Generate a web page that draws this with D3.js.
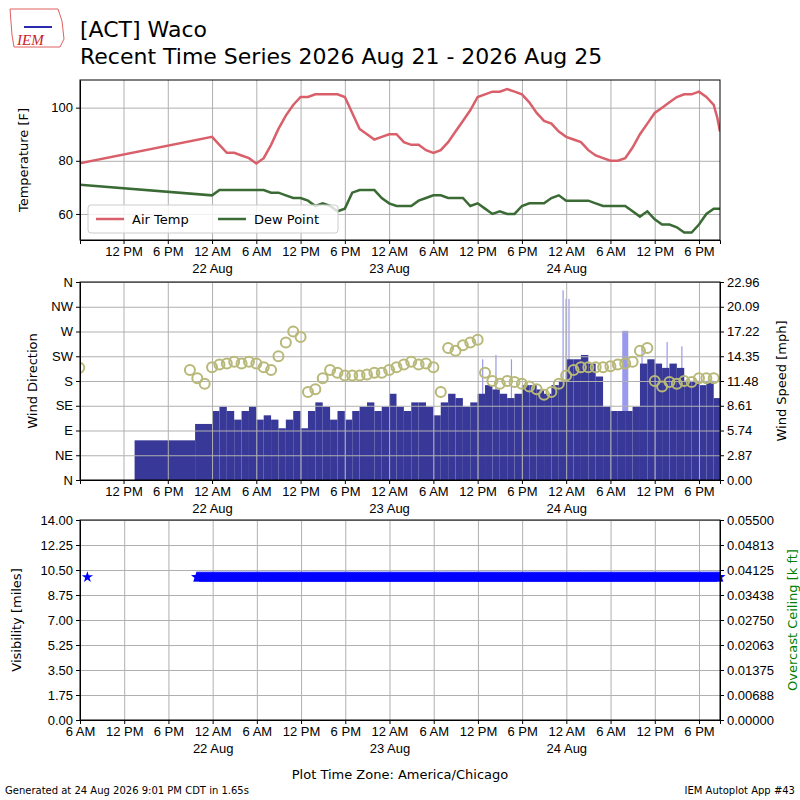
<!DOCTYPE html>
<html>
<head>
<meta charset="utf-8">
<script src="https://cdn.jsdelivr.net/npm/d3@7"></script>
<style>
body { margin: 0; background: #fff; }
svg { font-family: "DejaVu Sans", sans-serif; }
.tick text { font-size: 13px; fill: #000; }
.tick line { stroke: #000; }
.domain { stroke: #000; }
.grid line { stroke: #b0b0b0; stroke-width: 1; }
.grid .domain { display: none; }
</style>
</head>
<body>
<svg id="chart" width="800" height="800"></svg>
<script>
// times are hours relative to 2026 Aug 22 00:00 local
var TEMP_HOURS = [-18, 0,1,2,3,4,5,6,7,8,9,10,11,12,13,14,15,16,17,18,19,20,21,22,23,
    24,25,26,27,28,29,30,31,32,33,34,35,36,37,38,39,40,41,42,43,44,45,46,47,
    48,49,50,51,52,53,54,55,56,57,58,59,60,61,62,63,64,65,66,67,68,68.5,68.85];
var AIR_TEMP = [79, 89,86,83,83,82,81,79,81,86,92,97,101,104,104,105,105,105,105,104,98,92,90,88,89,
    90,90,87,86,86,84,83,84,87,91,95,99,104,105,106,106,107,106,105,102,98,95,94,91,
    89,88,87,84,82,81,80,80,81,85,90,94,98,100,102,104,105,105,106,104,101,96,91];
var DEW_POINT = [71, 67,69,69,69,69,69,69,69,68,68,67,66,66,65,63,64,63,61,62,68,69,69,69,66,
    64,63,63,63,65,66,67,67,66,66,66,63,64,62,60,61,60,60,63,64,64,64,66,67,
    65,65,65,65,64,63,63,63,63,61,59,61,58,56,56,55,53,53,56,60,62,62,62];

var WIND_HOURS = [-10.5, -2.3, 0,1,2,3,4,5,6,7,8,9,10,11,12,13,14,15,16,17,18,19,20,21,22,23,
    24,25,26,27,28,29,30,31,32,33,34,35,36,37,38,39,40,41,42,43,44,45,46,47,
    48,49,50,51,52,53,54,55,56,57,58,59,60,61,62,63,64,65,66,67,68];
var WIND_SPEED = [4.6, 6.5, 8,8.5,8,7,8,8.5,7,7.5,7,6,7,8,6,8,9,8.5,7,8,7,8,8.5,9,8,8.5,
    10,8.5,8,9,9,8.5,7.5,9,10,9.5,8.5,9,10,11,10.5,10,9.5,10,11,11,10.5,10,11,11.5,
    14,14,14.5,13.5,12,8.5,8,8,8,8.5,13.5,14,13.5,13,13.5,13,11.5,11.5,11,11.5,9.5];
var GUST_HOURS = [36.6, 38.4, 40.5, 47.5, 47.9, 48.3, 55.6, 58.2, 61.6, 63.6];
var GUST_SPEED = [14, 14.5, 14, 22, 21, 21, 17.3, 15.5, 16, 15.5];

var DIR_HOURS = [-18, -3, -2, -1, 0,1,2,3,4,5,6,7,8,9,10,11,12,13,14,15,16,17,18,19,20,21,22,23,
    24,25,26,27,28,29,30,31,32,33,34,35,36,37,38,39,40,41,42,43,44,45,46,47,
    48,49,50,51,52,53,54,55,56,57,58,59,60,61,62,63,64,65,66,67,68];
var WIND_DIR = [204, 200, 185, 175, 205,210,212,215,212,215,212,205,200,225,250,270,260,160,165,185,200,195,190,190,190,192,195,195,
    200,205,210,215,210,212,205,160,240,235,245,250,255,195,180,175,180,178,175,170,165,155,160,175,
    190,200,205,205,205,205,207,210,212,215,235,240,180,170,178,175,180,178,185,185,185];

var VIS_FIRST_HOURS = [-17];
var VIS_START_HOUR = -2.17;
var VIS_VALUE = 10;

var DIR_LABELS = ['N', 'NE', 'E', 'SE', 'S', 'SW', 'W', 'NW', 'N'];

var BASE = Date.UTC(2026, 7, 22, 0, 0);
function hourToDate(h) { return new Date(BASE + h * 3600000); }

var svg = d3.select('#chart');
var left = 80, right = 720;
var topDomain = [hourToDate(-17.9), hourToDate(68.85)];
var botDomain = [hourToDate(-18), hourToDate(68.85)];

function timeTick(d) {
    var h = d.getUTCHours();
    if (h === 0) return '12 AM';
    if (h === 12) return '12 PM';
    return h < 12 ? h + ' AM' : (h - 12) + ' PM';
}

function drawTimeAxis(x, yPos) {
    var g = svg.append('g').attr('transform', `translate(0,${yPos})`)
        .call(d3.axisBottom(x).ticks(d3.utcHour.every(6)).tickFormat(timeTick).tickSizeOuter(0).tickSize(4));
    g.selectAll('.tick').each(function(d) {
        if (d.getUTCHours() === 0) {
            d3.select(this).append('text').attr('y', 24).attr('dy', '0.71em')
                .attr('text-anchor', 'middle').text(d.getUTCDate() + ' Aug');
        }
    });
}

function drawXGrid(x, y0, y1) {
    svg.append('g').attr('class', 'grid').attr('transform', `translate(0,${y1})`)
        .call(d3.axisBottom(x).ticks(d3.utcHour.every(6)).tickSize(y0 - y1).tickFormat(''));
}

function drawYGrid(y, ticks) {
    svg.append('g').attr('class', 'grid').attr('transform', `translate(${left},0)`)
        .call(d3.axisRight(y).tickValues(ticks).tickSize(right - left).tickFormat(''));
}

function frame(y0, y1) {
    svg.append('rect').attr('x', left).attr('y', y0).attr('width', right - left).attr('height', y1 - y0)
        .attr('fill', 'none').attr('stroke', '#000');
}

function yLabel(text, xPos, yMid, color) {
    svg.append('text').attr('transform', `translate(${xPos},${yMid}) rotate(-90)`)
        .attr('text-anchor', 'middle').attr('font-size', 13).attr('fill', color || '#000').text(text);
}

// ---------- Panel 1: temperature ----------
var p1 = { top: 80, bottom: 240 };
var x1 = d3.scaleUtc().domain(topDomain).range([left, right]);
var y1 = d3.scaleLinear().domain([50.2, 110.4]).range([p1.bottom, p1.top]);
drawXGrid(x1, p1.bottom, p1.top);
drawYGrid(y1, [60, 80, 100]);

svg.append('clipPath').attr('id', 'clip1').append('rect')
    .attr('x', left).attr('y', p1.top).attr('width', right - left).attr('height', p1.bottom - p1.top);

var line1 = d3.line().x((d, i) => x1(hourToDate(TEMP_HOURS[i]))).y(d => y1(d));
svg.append('path').datum(AIR_TEMP).attr('d', line1).attr('fill', 'none')
    .attr('stroke', '#d9606a').attr('stroke-width', 2.5).attr('clip-path', 'url(#clip1)');
svg.append('path').datum(DEW_POINT).attr('d', line1).attr('fill', 'none')
    .attr('stroke', '#3a6b35').attr('stroke-width', 2.5).attr('clip-path', 'url(#clip1)');

svg.append('g').attr('transform', `translate(${left},0)`)
    .call(d3.axisLeft(y1).tickValues([60, 80, 100]).tickSize(4).tickSizeOuter(0));
drawTimeAxis(x1, p1.bottom);
frame(p1.top, p1.bottom);
yLabel('Temperature [F]', 28, 160);

var legend = svg.append('g').attr('transform', 'translate(88,205)');
legend.append('rect').attr('width', 250).attr('height', 28).attr('rx', 3)
    .attr('fill', 'rgba(255,255,255,0.8)').attr('stroke', '#ccc');
[['Air Temp', '#d9606a', 8], ['Dew Point', '#3a6b35', 130]].forEach(function(l) {
    legend.append('line').attr('x1', l[2]).attr('x2', l[2] + 28).attr('y1', 14).attr('y2', 14)
        .attr('stroke', l[1]).attr('stroke-width', 2.5);
    legend.append('text').attr('x', l[2] + 36).attr('y', 19).attr('font-size', 13).text(l[0]);
});

// ---------- Panel 2: wind ----------
var p2 = { top: 282, bottom: 480 };
var x2 = d3.scaleUtc().domain(topDomain).range([left, right]);
var yDir = d3.scaleLinear().domain([0, 360]).range([p2.bottom, p2.top]);
var ySpd = d3.scaleLinear().domain([0, 22.96]).range([p2.bottom, p2.top]);

svg.append('clipPath').attr('id', 'clip2').append('rect')
    .attr('x', left).attr('y', p2.top).attr('width', right - left).attr('height', p2.bottom - p2.top);

svg.append('g').attr('clip-path', 'url(#clip2)').selectAll('rect').data(GUST_SPEED).join('rect')
    .attr('x', (d, i) => x2(hourToDate(GUST_HOURS[i])))
    .attr('width', (d, i) => i === 6 ? 6 : 1.2)
    .attr('y', d => ySpd(d)).attr('height', d => ySpd(0) - ySpd(d))
    .attr('fill', '#9999ee');

svg.append('g').attr('clip-path', 'url(#clip2)').selectAll('rect').data(WIND_SPEED).join('rect')
    .attr('x', (d, i) => x2(hourToDate(WIND_HOURS[i])))
    .attr('width', (d, i) => {
        var next = i + 1 < WIND_HOURS.length ? hourToDate(WIND_HOURS[i + 1]) : topDomain[1];
        return x2(next) - x2(hourToDate(WIND_HOURS[i]));
    })
    .attr('y', d => ySpd(d)).attr('height', d => ySpd(0) - ySpd(d))
    .attr('fill', '#383898');

drawXGrid(x2, p2.bottom, p2.top);
drawYGrid(yDir, d3.range(0, 361, 45));

svg.append('g').attr('clip-path', 'url(#clip2)').selectAll('circle').data(WIND_DIR).join('circle')
    .attr('cx', (d, i) => x2(hourToDate(DIR_HOURS[i]))).attr('cy', d => yDir(d))
    .attr('r', 5).attr('fill', 'none').attr('stroke', '#b8b878').attr('stroke-width', 2);

svg.append('g').attr('transform', `translate(${left},0)`)
    .call(d3.axisLeft(yDir).tickValues(d3.range(0, 361, 45)).tickFormat((d, i) => DIR_LABELS[i]).tickSize(4).tickSizeOuter(0));
svg.append('g').attr('transform', `translate(${right},0)`)
    .call(d3.axisRight(ySpd).tickValues(d3.range(0, 9).map(i => i * 2.87)).tickFormat(d3.format('.2f')).tickSize(4).tickSizeOuter(0));
drawTimeAxis(x2, p2.bottom);
frame(p2.top, p2.bottom);
yLabel('Wind Direction', 37, 381);
yLabel('Wind Speed [mph]', 786, 381);

// ---------- Panel 3: visibility ----------
var p3 = { top: 520, bottom: 720 };
var x3 = d3.scaleUtc().domain(botDomain).range([left, right]);
var yVis = d3.scaleLinear().domain([0, 14]).range([p3.bottom, p3.top]);
var yCig = d3.scaleLinear().domain([0, 0.055]).range([p3.bottom, p3.top]);
drawXGrid(x3, p3.bottom, p3.top);
drawYGrid(yVis, d3.range(0, 9).map(i => i * 1.75));

var visTimes = VIS_FIRST_HOURS.map(hourToDate)
    .concat(d3.utcMinute.every(5).range(hourToDate(VIS_START_HOUR), botDomain[1]));
var star = d3.symbol().type(d3.symbolStar).size(40);
svg.append('g').selectAll('path').data(visTimes).join('path')
    .attr('transform', d => `translate(${x3(d)},${yVis(VIS_VALUE)})`)
    .attr('d', star).attr('fill', '#0000ff');

svg.append('g').attr('transform', `translate(${left},0)`)
    .call(d3.axisLeft(yVis).tickValues(d3.range(0, 9).map(i => i * 1.75)).tickFormat(d3.format('.2f')).tickSize(4).tickSizeOuter(0));
svg.append('g').attr('transform', `translate(${right},0)`)
    .call(d3.axisRight(yCig).tickValues(d3.range(0, 9).map(i => i * 0.006875)).tickFormat(d3.format('.5f')).tickSize(4).tickSizeOuter(0));
drawTimeAxis(x3, p3.bottom);
frame(p3.top, p3.bottom);
yLabel('Visibility [miles]', 21, 620);
yLabel('Overcast Ceiling [k ft]', 797, 620, 'green');

// ---------- titles ----------
svg.append('text').attr('x', 80).attr('y', 37).attr('font-size', 22).text('[ACT] Waco');
svg.append('text').attr('x', 80).attr('y', 64).attr('font-size', 22).text('Recent Time Series 2026 Aug 21 - 2026 Aug 25');
svg.append('text').attr('x', 400).attr('y', 779).attr('text-anchor', 'middle').attr('font-size', 13)
    .text('Plot Time Zone: America/Chicago');
svg.append('text').attr('x', 5).attr('y', 794).attr('font-size', 10).text('Generated at 24 Aug 2026 9:01 PM CDT in 1.65s');
svg.append('text').attr('x', 795).attr('y', 794).attr('text-anchor', 'end').attr('font-size', 10).text('IEM Autoplot App #43');

// logo
var logo = svg.append('g').attr('transform', 'translate(8,5)');
logo.append('path').attr('d', 'M2,4 L50,4 L54,16 L56,34 L52,42 L6,42 L4,30 Z').attr('fill', 'none').attr('stroke', '#e06060').attr('stroke-width', 1);
logo.append('line').attr('x1', 16).attr('x2', 44).attr('y1', 22).attr('y2', 22).attr('stroke', '#2a2ab0').attr('stroke-width', 2);
logo.append('text').attr('x', 9).attr('y', 40).attr('font-size', 15).attr('font-style', 'italic')
    .attr('font-family', 'Liberation Serif, serif').attr('fill', '#cc2222').text('IEM');
</script>
</body>
</html>
